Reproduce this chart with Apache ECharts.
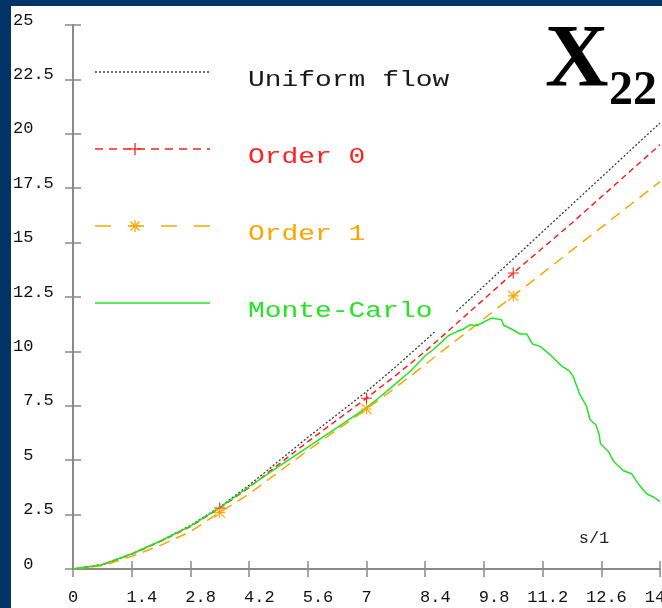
<!DOCTYPE html>
<html>
<head>
<meta charset="utf-8">
<script src="https://cdn.jsdelivr.net/npm/echarts@6/dist/echarts.min.js"></script>
<style>
  html, body { margin: 0; padding: 0; width: 662px; height: 608px; overflow: hidden; background: #003366; }
  #paper { position: absolute; left: 11px; top: 6px; width: 651px; height: 602px; background: #ffffff; }
  #chart { position: absolute; left: 0; top: 0; width: 662px; height: 608px; }
</style>
</head>
<body>
<div id="paper"></div>
<div id="chart"></div>
<script>
// Dimensionless time s/l
const sValues = [0, 0.7, 1.4, 2.1, 2.8, 3.5, 4.2, 4.9, 5.6, 6.3, 7.0, 7.7, 8.4, 9.1, 9.8, 10.5, 11.2, 11.9, 12.6, 13.3, 14.0];

// X22 from the analytic models
const uniformFlow = [0, 0.2, 0.7, 1.3, 2.0, 2.85, 3.85, 4.95, 6.05, 7.1, 8.15, 9.3, 10.5, 11.75, 13.0, 14.25, 15.5, 16.75, 18.0, 19.25, 20.5];
const order0      = [0, 0.2, 0.68, 1.28, 1.95, 2.8, 3.75, 4.8, 5.85, 6.85, 7.85, 8.9, 10.0, 11.2, 12.4, 13.6, 14.75, 15.9, 17.1, 18.3, 19.5];
const order1      = [0, 0.15, 0.58, 1.1, 1.72, 2.6, 3.45, 4.45, 5.45, 6.4, 7.35, 8.35, 9.4, 10.45, 11.5, 12.55, 13.6, 14.65, 15.7, 16.75, 17.8];

// Monte-Carlo estimate of X22
const mcS      = [0, 0.7, 1.4, 2.1, 2.8, 3.5, 4.2, 4.9, 5.6, 6.3, 7.0, 7.35, 7.7, 8.05, 8.4, 8.6, 8.8, 8.95, 9.15, 9.31, 9.47, 9.63, 9.8, 9.98, 10.15, 10.22, 10.27, 10.46, 10.66, 10.82, 10.96, 11.14, 11.38, 11.65, 11.85, 11.93, 12.09, 12.25, 12.33, 12.47, 12.55, 12.58, 12.77, 12.89, 13.12, 13.32, 13.48, 13.68, 13.84, 14.0];
const mcValues = [0, 0.2, 0.69, 1.3, 1.97, 2.82, 3.78, 4.7, 5.6, 6.5, 7.42, 7.95, 8.52, 9.1, 9.8, 10.1, 10.45, 10.72, 10.9, 11.03, 11.22, 11.18, 11.35, 11.53, 11.48, 11.45, 11.2, 11.03, 10.8, 10.8, 10.34, 10.23, 9.85, 9.34, 9.08, 8.85, 8.01, 7.47, 6.86, 6.63, 6.17, 5.76, 5.4, 4.95, 4.53, 4.38, 3.92, 3.46, 3.31, 3.1];

// Points that carry a point symbol on the model curves
const markerS = [3.5, 7.0, 10.5];

// Legend entries
const seriesNames = ['Uniform flow', 'Order 0', 'Order 1', 'Monte-Carlo'];
const seriesColors = ['#3a3a3a', '#ff2020', '#ffa500', '#22e622'];

// Axis ranges and tick spacing
const xMin = 0, xMax = 14, xStep = 1.4;
const yMin = 0, yMax = 25, yStep = 2.5;

const MONO = '"Liberation Mono", "DejaVu Sans Mono", monospace';
const SERIF = '"Liberation Serif", "DejaVu Serif", serif';
const AXIS_GRAY = '#8a8a8a';

const plusPath = 'path://M4.5,0h1v10h-1zM0,4.5h10v1h-10z';
const starPath = 'path://M4.5,0h1v10h-1zM0,4.5h10v1h-10zM0.7,0L10,9.3L9.3,10L0,0.7zM9.3,0L10,0.7L0.7,10L0,9.3z';

function points(xs, ys, sym) {
  return xs.map((x, i) => ({
    value: [x, ys[i]],
    symbol: sym && markerS.indexOf(x) >= 0 ? sym : 'none'
  }));
}

function fmt(v) { return String(Number(v.toFixed(1))); }

// centre the units digit of the number on its tick
function centreOnUnits(v) {
  const t = fmt(v);
  const dot = t.indexOf('.');
  const u = (dot < 0 ? t.length : dot) - 1;
  const after = t.length - 1 - u, before = u;
  return ' '.repeat(Math.max(0, after - before)) + t + ' '.repeat(Math.max(0, before - after));
}

const axisLine = { show: true, lineStyle: { color: AXIS_GRAY, width: 2 } };
const axisTick = { show: true, inside: true, length: 8, lineStyle: { color: AXIS_GRAY, width: 1.5 } };

const chart = echarts.init(document.getElementById('chart'), null, { renderer: 'canvas', width: 662, height: 608 });

// key drawn at the upper left of the plot
const keyY = [72, 149, 226, 303];
const keyDash = [[2, 2], [8, 6], [16, 17], null];
const keyGraphics = [];
seriesNames.forEach((name, i) => {
  keyGraphics.push({
    type: 'line', z: 5,
    shape: { x1: 95, y1: keyY[i], x2: 210, y2: keyY[i] },
    style: { stroke: seriesColors[i], lineWidth: i === 0 ? 1.4 : 1.6, lineDash: keyDash[i] }
  });
  keyGraphics.push({
    type: 'text', z: 5, x: 248, y: keyY[i] + 8, scaleX: 1.27,
    style: { text: name, fill: i === 0 ? '#1a1a1a' : seriesColors[i], font: '22px ' + MONO, fontSize: 22, fontFamily: MONO, align: 'left', verticalAlign: 'middle' }
  });
});
// "+" on the Order 0 key line
keyGraphics.push({ type: 'line', z: 6, shape: { x1: 129, y1: keyY[1], x2: 141, y2: keyY[1] }, style: { stroke: seriesColors[1], lineWidth: 1.3 } });
keyGraphics.push({ type: 'line', z: 6, shape: { x1: 135, y1: keyY[1] - 6, x2: 135, y2: keyY[1] + 6 }, style: { stroke: seriesColors[1], lineWidth: 1.3 } });
// "*" on the Order 1 key line
[[-6, 0, 6, 0], [0, -6, 0, 6], [-4.5, -4.5, 4.5, 4.5], [-4.5, 4.5, 4.5, -4.5]].forEach(d => {
  keyGraphics.push({ type: 'line', z: 6, shape: { x1: 135 + d[0], y1: keyY[2] + d[1], x2: 135 + d[2], y2: keyY[2] + d[3] }, style: { stroke: seriesColors[2], lineWidth: 1.3 } });
});
// opaque box behind the last key entry
keyGraphics.push({ type: 'rect', z: 1.5, shape: { x: 240, y: 290, width: 215, height: 42 }, style: { fill: '#ffffff' } });

const option = {
  animation: false,
  backgroundColor: 'transparent',
  grid: { left: 73, top: 25, right: 2, bottom: 39, containLabel: false, outerBoundsMode: 'none' },
  xAxis: [
    {
      type: 'value', position: 'bottom', min: xMin, max: xMax, interval: xStep,
      axisLine, axisTick, splitLine: { show: false },
      axisLabel: { margin: 20, color: '#111111', fontFamily: MONO, fontSize: 17, formatter: centreOnUnits, showMinLabel: true, showMaxLabel: true, hideOverlap: false }
    },
    {
      type: 'value', position: 'top', min: xMin, max: xMax, interval: xStep,
      axisLine, axisTick, splitLine: { show: false }, axisLabel: { show: false }
    }
  ],
  yAxis: [
    {
      type: 'value', position: 'left', min: yMin, max: yMax, interval: yStep,
      axisLine, axisTick, splitLine: { show: false },
      axisLabel: {
        margin: 60, align: 'left', verticalAlign: 'bottom', lineHeight: 10,
        color: '#111111', fontFamily: MONO, fontSize: 17,
        formatter: v => (v < 10 ? ' ' : '') + fmt(v)
      }
    },
    {
      type: 'value', position: 'right', min: yMin, max: yMax, interval: yStep,
      axisLine, axisTick, splitLine: { show: false }, axisLabel: { show: false }
    }
  ],
  series: [
    {
      name: seriesNames[0], type: 'line', z: 1, data: points(sValues, uniformFlow, null),
      symbol: 'none', lineStyle: { color: seriesColors[0], width: 1.3, type: [2, 2] }, silent: true
    },
    {
      name: seriesNames[1], type: 'line', z: 3, data: points(sValues, order0, plusPath),
      showSymbol: true, showAllSymbol: true, symbolSize: 11,
      itemStyle: { color: seriesColors[1] },
      lineStyle: { color: seriesColors[1], width: 1.5, type: [6, 4] }, silent: true
    },
    {
      name: seriesNames[2], type: 'line', z: 3, data: points(sValues, order1, starPath),
      showSymbol: true, showAllSymbol: true, symbolSize: 11,
      itemStyle: { color: seriesColors[2] },
      lineStyle: { color: seriesColors[2], width: 1.5, type: [11, 7] }, silent: true
    },
    {
      name: seriesNames[3], type: 'line', z: 3, data: points(mcS, mcValues, null),
      symbol: 'none', lineStyle: { color: seriesColors[3], width: 1.5 }, silent: true
    }
  ],
  graphic: keyGraphics.concat([
    { type: 'text', z: 6, x: 545, y: 62, style: { text: 'X', fill: '#000000', font: 'bold 88px ' + SERIF, fontSize: 88, fontWeight: 'bold', fontFamily: SERIF, align: 'left', verticalAlign: 'middle' } },
    { type: 'text', z: 6, x: 609, y: 92, style: { text: '22', fill: '#000000', font: 'bold 48px ' + SERIF, fontSize: 48, fontWeight: 'bold', fontFamily: SERIF, align: 'left', verticalAlign: 'middle' } },
    { type: 'text', z: 6, x: 594, y: 538, style: { text: 's/1', fill: '#222222', font: '17px ' + MONO, fontSize: 17, fontFamily: MONO, align: 'center', verticalAlign: 'middle' } }
  ])
};

chart.setOption(option);
</script>
</body>
</html>
